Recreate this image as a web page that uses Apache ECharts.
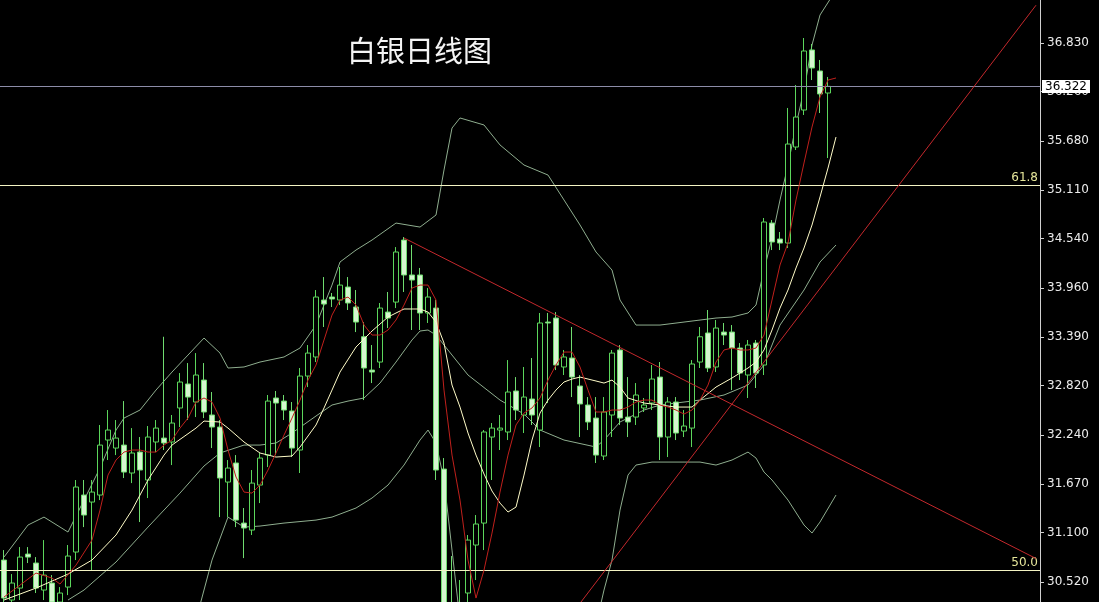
<!DOCTYPE html>
<html><head><meta charset="utf-8">
<script src="https://cdn.jsdelivr.net/npm/echarts@6.0.0/dist/echarts.min.js"></script>
<style>html,body{margin:0;padding:0;background:#000;}#c{width:1099px;height:602px;}</style>
</head><body><div id="c"></div>
<script>
const categories = Array.from({length:130}, (_, i) => String(i + 1));
const yTicks = [30.520,31.100,31.670,32.240,32.820,33.390,33.960,34.540,35.110,35.680,36.260,36.830];
const opens = [30.777,30.309,30.449,30.847,30.742,30.426,30.508,30.285,30.461,30.871,
31.538,31.456,31.538,32.182,32.088,32.123,31.796,32.041,31.714,32.159,
32.205,32.159,32.557,32.838,32.627,32.884,32.475,32.334,31.690,31.913,
31.210,31.128,31.655,32.006,32.674,32.638,32.522,32.065,32.931,33.154,
33.821,33.856,33.821,33.973,33.739,33.391,33.001,33.095,33.680,33.797,
34.523,34.114,34.114,33.669,33.727,31.842,30.215,30.133,30.391,30.953,
31.210,32.217,32.299,32.276,32.756,32.475,32.662,32.299,33.563,33.610,
33.037,33.142,32.814,32.592,32.439,31.995,32.475,33.236,32.451,32.451,
32.557,32.615,32.919,32.217,32.627,32.287,32.322,33.095,33.435,33.037,
33.446,33.446,33.259,32.943,33.317,33.060,34.722,34.535,34.488,35.612,
36.045,36.748,36.502,36.244];
const closes = [30.332,30.508,30.812,30.812,30.449,30.601,30.285,30.391,30.824,31.632,
31.304,31.573,32.123,32.299,32.205,31.807,32.030,31.831,32.217,32.322,
32.147,32.381,32.861,32.685,32.943,32.510,32.334,31.737,31.854,31.245,
31.152,31.678,31.971,32.638,32.615,32.533,32.088,32.931,33.200,33.856,
33.774,33.833,33.996,33.786,33.563,33.025,32.978,33.727,33.610,34.383,
34.114,34.055,33.669,33.856,31.831,30.192,30.168,30.250,31.011,31.199,
32.276,32.322,32.322,32.744,32.533,32.685,32.475,33.552,33.552,33.060,
33.154,32.919,32.604,32.393,32.006,32.510,33.200,32.439,32.393,32.709,
32.592,32.896,32.217,32.627,32.264,32.346,33.072,33.391,33.025,33.493,
33.411,33.259,32.966,33.294,32.966,34.734,34.500,34.488,35.647,35.963,
36.736,36.537,36.233,36.322];
const lows = [30.250,30.250,30.309,30.742,30.391,30.309,30.192,30.192,30.367,30.777,
31.163,30.660,31.479,31.948,32.006,31.737,31.678,31.222,31.503,32.041,
32.065,31.889,32.334,32.416,32.451,32.439,32.088,31.280,31.280,31.163,
30.800,31.070,31.444,31.866,32.006,32.416,31.983,31.796,32.802,33.095,
33.505,33.739,33.762,33.704,33.446,32.650,32.849,33.025,33.493,33.727,
33.915,33.470,33.470,33.552,31.714,30.075,30.016,29.958,30.192,30.543,
30.894,31.714,32.065,32.182,32.416,32.264,32.358,32.100,32.615,33.001,
32.943,32.685,32.217,32.299,31.913,31.948,32.217,32.358,32.217,32.358,
32.510,32.533,31.948,31.983,32.182,32.217,32.100,33.025,32.978,32.978,
33.294,32.767,32.884,32.674,32.791,32.943,34.406,34.406,34.430,35.577,
35.987,36.396,36.010,35.483];
const highs = [30.894,30.613,30.929,30.929,30.812,31.011,30.601,30.461,30.953,31.714,
31.714,31.714,32.358,32.533,32.416,32.638,32.322,32.217,32.346,32.416,
33.391,32.475,32.966,33.083,33.200,33.083,32.744,32.416,31.948,32.006,
31.386,31.831,32.030,32.709,32.756,32.709,32.627,33.025,33.294,33.938,
34.090,33.903,34.207,34.090,33.938,33.563,33.294,33.786,33.915,34.441,
34.558,34.465,34.196,33.961,33.821,31.971,30.824,30.543,31.070,31.304,
32.299,32.381,32.475,33.118,32.919,33.037,33.142,33.669,33.669,33.680,
33.236,33.505,32.943,32.685,32.685,32.685,33.236,33.294,32.919,32.849,
32.674,33.060,33.095,32.685,32.685,32.533,33.118,33.505,33.704,33.587,
33.552,33.528,33.317,33.353,33.353,34.781,34.757,34.617,36.069,36.338,
36.888,36.818,36.631,36.432];
// red fast average
const maFast = [[0,30.344],[2,30.484],[4,30.625],[6,30.566],[7,30.496],[9,30.718],[11,31.011],[12,31.362],[13,31.772],[14,31.948],
[15,32.041],[16,32.065],[17,32.065],[18,32.041],[19,32.041],[20,32.123],[21,32.182],[22,32.322],[23,32.439],[24,32.627],
[25,32.674],[26,32.627],[27,32.439],[28,32.065],[29,31.749],[30,31.573],[31,31.561],[32,31.655],[33,31.831],[34,32.030],
[35,32.240],[36,32.439],[37,32.650],[38,32.884],[39,33.060],[40,33.353],[41,33.645],[42,33.821],[43,33.856],[44,33.762],
[45,33.528],[46,33.411],[47,33.411],[48,33.470],[49,33.587],[50,33.762],[51,33.961],[52,33.996],[53,33.996],[54,33.821],
[55,32.767],[56,32.006],[57,31.479],[58,30.777],[59,30.332],[60,30.660],[61,31.093],[62,31.573],[63,32.006],[64,32.358],
[65,32.498],[66,32.557],[67,32.674],[68,32.884],[69,33.060],[70,33.212],[71,33.212],[72,33.037],[73,32.767],[74,32.510],
[75,32.510],[76,32.533],[77,32.533],[78,32.568],[79,32.627],[80,32.650],[81,32.650],[82,32.592],[83,32.568],[84,32.533],
[85,32.486],[86,32.533],[87,32.650],[88,32.826],[89,33.095],[90,33.236],[91,33.259],[92,33.236],[93,33.236],[94,33.259],
[95,33.411],[96,33.821],[97,34.231],[98,34.488],[99,34.992],[100,35.425],[101,35.846],[102,36.197],[103,36.396],[104,36.420]];
// pale yellow slow average
const maSlow = [[0,30.309],[4,30.449],[8,30.613],[11,30.777],[14,31.070],[16,31.362],[18,31.714],[20,32.006],[21,32.123],[24,32.322],
[25,32.404],[27,32.393],[28,32.322],[30,32.159],[32,32.030],[34,31.983],[36,31.995],[37,32.100],[39,32.358],[40,32.557],
[41,32.767],[42,32.978],[44,33.271],[46,33.458],[48,33.622],[50,33.716],[52,33.716],[53,33.680],[54,33.563],[55,33.317],
[56,32.826],[57,32.568],[58,32.264],[59,32.006],[60,31.784],[61,31.585],[62,31.444],[63,31.339],[64,31.397],[65,31.772],
[66,32.182],[67,32.498],[68,32.650],[69,32.767],[70,32.861],[71,32.896],[72,32.919],[74,32.873],[75,32.849],[76,32.884],
[77,32.802],[78,32.674],[80,32.615],[82,32.592],[84,32.568],[86,32.568],[87,32.650],[89,32.802],[91,32.908],[93,33.025],
[94,33.095],[95,33.236],[96,33.470],[97,33.727],[98,33.938],[99,34.196],[100,34.430],[101,34.699],[102,35.027],[103,35.366],[104,35.729]];
const bandUpper = [[0,30.812],[3,31.187],[5,31.280],[8,31.105],[10,31.479],[12,31.854],[14,32.299],[15,32.439],[17,32.533],[19,32.767],
[21,32.978],[23,33.177],[25,33.376],[27,33.200],[28,33.025],[30,33.037],[32,33.095],[35,33.154],[37,33.259],[39,33.528],
[41,33.996],[42,34.266],[44,34.406],[46,34.523],[49,34.722],[52,34.675],[54,34.816],[55,35.343],[56,35.834],[57,35.952],
[60,35.870],[62,35.636],[65,35.401],[68,35.284],[70,34.992],[72,34.699],[74,34.383],[76,34.172],[77,33.821],[79,33.528],
[82,33.528],[85,33.563],[89,33.610],[91,33.622],[93,33.669],[94,33.762],[95,34.172],[96,34.547],[97,34.992],[98,35.401],
[99,35.870],[100,36.279],[101,36.806],[102,37.157],[104,37.450]];
const bandMid = [[8,30.309],[10,30.426],[14,30.754],[18,31.163],[22,31.561],[25,31.878],[27,32.030],[30,32.123],[32,32.123],[34,32.147],
[36,32.264],[39,32.463],[41,32.592],[43,32.638],[45,32.674],[47,32.849],[49,33.095],[51,33.353],[52,33.458],[53,33.470],
[54,33.411],[56,33.177],[58,32.943],[62,32.650],[65,32.486],[67,32.299],[70,32.182],[74,32.100],[75,32.182],[77,32.393],
[80,32.533],[82,32.592],[87,32.650],[90,32.709],[93,32.826],[95,33.060],[97,33.528],[100,33.938],[102,34.266],[104,34.465]];
const bandLower = [[24,30.075],[26,30.777],[28,31.280],[30,31.163],[32,31.175],[35,31.210],[39,31.245],[41,31.280],[44,31.386],[46,31.503],
[48,31.655],[50,31.889],[52,32.182],[53,32.299],[54,32.147],[55,31.714],[56,30.894],[57,30.075],[74,30.016],[75,30.426],
[76,30.777],[77,31.362],[78,31.772],[79,31.889],[81,31.924],[87,31.924],[89,31.889],[91,31.948],[93,32.041],[94,31.971],
[95,31.807],[96,31.714],[98,31.479],[100,31.187],[101,31.093],[102,31.222],[104,31.538]];
const trendDown = [[50,34.547],[129,30.795]];
const trendUp = [[71,30.148],[129,37.272]];
const fibLevels = [{name:'61.8', value:35.168},{name:'50.0', value:30.660}];
const lastPrice = 36.322;

const candleData = opens.map((o, i) => [o, closes[i], lows[i], highs[i]]);
const thin = (color) => ({type:'line', symbol:'none', silent:true, lineStyle:{width:1, color}, z:3});

const chart = echarts.init(document.getElementById('c'), null, {renderer:'canvas'});
chart.setOption({
  animation:false,
  backgroundColor:'#000',
  title:{text:'白银日线图', left:342, top:31,
    textStyle:{color:'#f4f4f4', fontSize:29, fontWeight:'normal', fontFamily:'Noto Sans CJK SC'}},
  grid:{left:-3, right:59, top:0, bottom:0, containLabel:false},
  xAxis:{type:'category', data:categories, boundaryGap:true, show:false},
  yAxis:{type:'value', position:'right', min:30.286, max:37.333,
    axisLine:{show:true, lineStyle:{color:'#d0d0d0', width:1}},
    axisTick:{show:true, length:4, customValues:yTicks, lineStyle:{color:'#d0d0d0'}},
    axisLabel:{customValues:yTicks, color:'#ececec', fontFamily:'DejaVu Sans', fontSize:12, margin:7,
      formatter:(v) => v.toFixed(3)},
    splitLine:{show:false}},
  series:[
    Object.assign(thin('#8fae8f'), {data:bandUpper}),
    Object.assign(thin('#8fae8f'), {data:bandMid}),
    Object.assign(thin('#8fae8f'), {data:bandLower}),
    {type:'candlestick', data:candleData, barWidth:6, z:4,
      itemStyle:{color:'#000000', color0:'#d6f6d0', borderColor:'#5cd65c', borderColor0:'#6fdc6f', borderWidth:1},
      markLine:{silent:true, symbol:['none','none'], animation:false,
        data:[
          {yAxis:fibLevels[0].value, lineStyle:{color:'#f4f4c4', width:1, type:'solid'},
            label:{show:true, position:'insideEndTop', formatter:fibLevels[0].name, color:'#e6e69a', fontSize:12, fontFamily:'DejaVu Sans', distance:[2,1]}},
          {yAxis:fibLevels[1].value, lineStyle:{color:'#f4f4c4', width:1, type:'solid'},
            label:{show:true, position:'insideEndTop', formatter:fibLevels[1].name, color:'#e6e69a', fontSize:12, fontFamily:'DejaVu Sans', distance:[2,1]}},
          {yAxis:lastPrice, lineStyle:{color:'#8c8ca8', width:1, type:'solid'},
            label:{show:true, position:'end', formatter:lastPrice.toFixed(3), color:'#000', backgroundColor:'#ffffff',
              fontSize:12, fontFamily:'DejaVu Sans', padding:[1,3,0,3], distance:2}}
        ]}},
    Object.assign(thin('#fffcc8'), {data:maSlow, z:5}),
    Object.assign(thin('#c0201c'), {data:maFast, z:5}),
    Object.assign(thin('#c4282c'), {data:trendDown, z:5}),
    Object.assign(thin('#c4282c'), {data:trendUp, z:5})
  ]
});
</script></body></html>
